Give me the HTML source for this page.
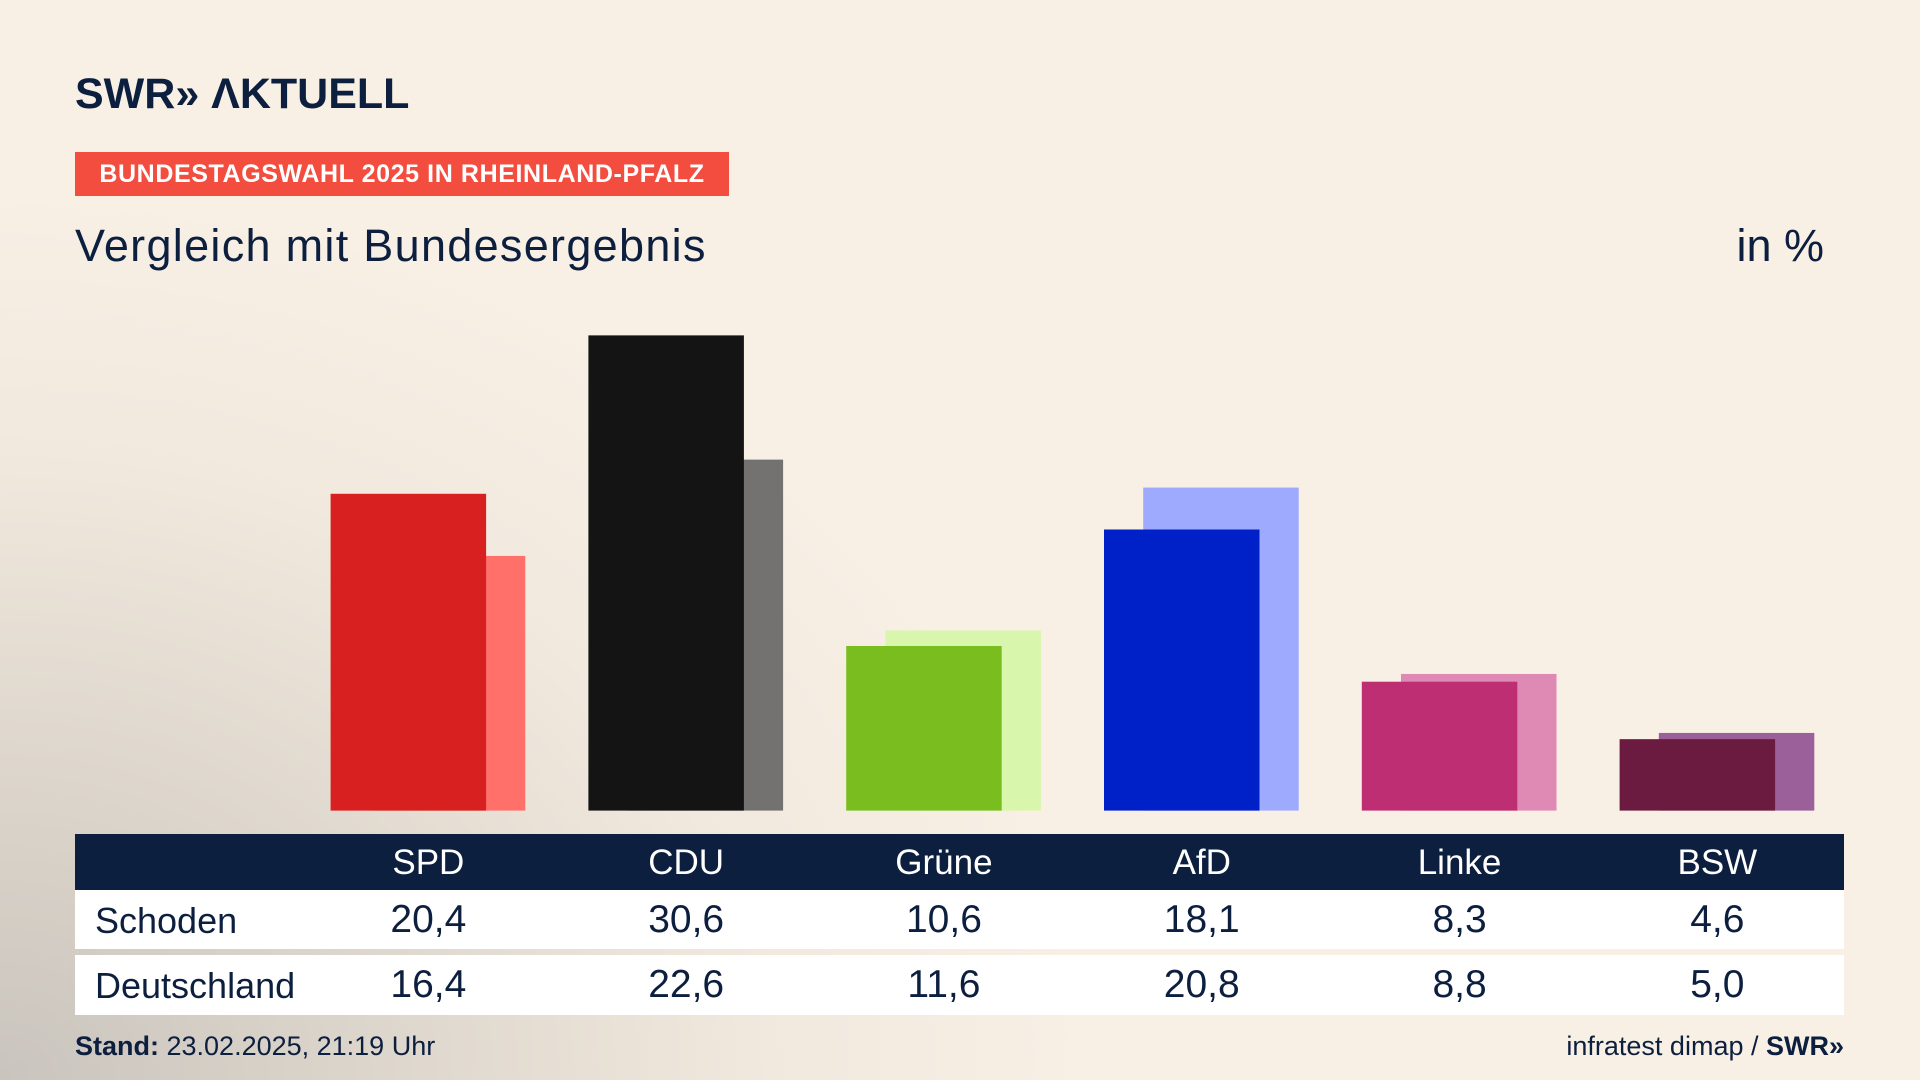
<!DOCTYPE html>
<html><head><meta charset="utf-8">
<style>
html,body{margin:0;padding:0}
body{width:1920px;height:1080px;overflow:hidden;position:relative;font-family:"Liberation Sans","DejaVu Sans",sans-serif;color:#0d1f3f;
background:radial-gradient(ellipse 1100px 900px at 0px 1080px,#c9c4bd 0%,#ddd6cc 35%,#f1e9de 70%,#f8f0e5 100%),#f8f0e5;}
.abs{position:absolute}
#logo{left:75px;top:70px;font-size:43px;font-weight:bold;letter-spacing:0px;color:#0d1f3f}
#tag{left:75px;top:152px;width:654px;height:44px;background:#f24d3e;color:#fff;font-weight:bold;font-size:25px;letter-spacing:0.6px;line-height:44px;text-align:center}
#title{left:75px;top:220px;font-size:45px;letter-spacing:1.3px}
#unit{right:96px;top:220px;font-size:45px}
.row{left:75px;width:1769px}
.cell{position:absolute;transform:translateX(-50%);white-space:nowrap}
#foot-l{left:75px;top:1031px;font-size:27px}
#foot-r{right:76px;top:1031px;font-size:27px}
</style></head><body>
<div id="logo" class="abs">SWR» ΛKTUELL</div>
<div id="tag" class="abs">BUNDESTAGSWAHL 2025 IN RHEINLAND-PFALZ</div>
<div id="title" class="abs">Vergleich mit Bundesergebnis</div>
<div id="unit" class="abs">in %</div>
<svg id="chart" class="abs" style="left:0;top:0" width="1920" height="1080"></svg>
<div class="abs row" style="top:834px;height:56px;background:#0d1f3f" id="hdr"></div>
<div class="abs row" style="top:890px;height:59px;background:#fff" id="r1"></div>
<div class="abs row" style="top:955px;height:60px;background:#fff" id="r2"></div>
<div id="foot-l" class="abs"><b>Stand:</b> 23.02.2025, 21:19 Uhr</div>
<div id="foot-r" class="abs">infratest dimap / <b>SWR»</b></div>
<script>
const parties=["SPD","CDU","Grüne","AfD","Linke","BSW"];
const schoden=[20.4,30.6,10.6,18.1,8.3,4.6];
const deutschland=[16.4,22.6,11.6,20.8,8.8,5.0];
const frontColors=["#d7201f","#141414","#79bd1e","#0020c8","#be2e72","#6b1a40"];
const backColors=["#ff706b","#737270","#d9f7ac","#9daafe","#df89b5","#9b5f99"];
const base=810.6, perUnit=15.53, x0=330.6, step=257.8, bw=155.5, off=39.2;
const y=v=>base-v*perUnit, x=i=>x0+i*step;
const fmt=v=>v.toFixed(1).replace('.',',');
const svg=document.getElementById('chart'), NS="http://www.w3.org/2000/svg";
parties.forEach((p,i)=>{
  const b=document.createElementNS(NS,'rect');
  b.setAttribute('x',x(i)+off);b.setAttribute('y',y(deutschland[i]));b.setAttribute('width',bw);b.setAttribute('height',base-y(deutschland[i]));b.setAttribute('fill',backColors[i]);
  
  
  svg.appendChild(b);
  const f=document.createElementNS(NS,'rect');
  f.setAttribute('x',x(i));f.setAttribute('y',y(schoden[i]));f.setAttribute('width',bw);f.setAttribute('height',base-y(schoden[i]));f.setAttribute('fill',frontColors[i]);
  
  
  svg.appendChild(f);
});
function addCell(rowId,text,cx,top,color,size){
  const d=document.createElement('div');d.className='cell';d.textContent=text;
  d.style.left=(cx-75)+'px';d.style.top=top+'px';d.style.color=color;d.style.fontSize=size+'px';
  
  
  document.getElementById(rowId).appendChild(d);
}
parties.forEach((p,i)=>{
  const cx=x(i)+bw/2+20;
  addCell('hdr',p,cx,9,'#fff',35);
  addCell('r1',fmt(schoden[i]),cx,8,'#0d1f3f',39);
  addCell('r2',fmt(deutschland[i]),cx,8,'#0d1f3f',39);
});
function addLabel(rowId,t){const d=document.createElement('div');d.textContent=t;d.style.position='absolute';d.style.left='20px';d.style.top='10px';d.style.fontSize='36px';


document.getElementById(rowId).appendChild(d);}
addLabel('r1','Schoden');addLabel('r2','Deutschland');
</script>
</body></html>
